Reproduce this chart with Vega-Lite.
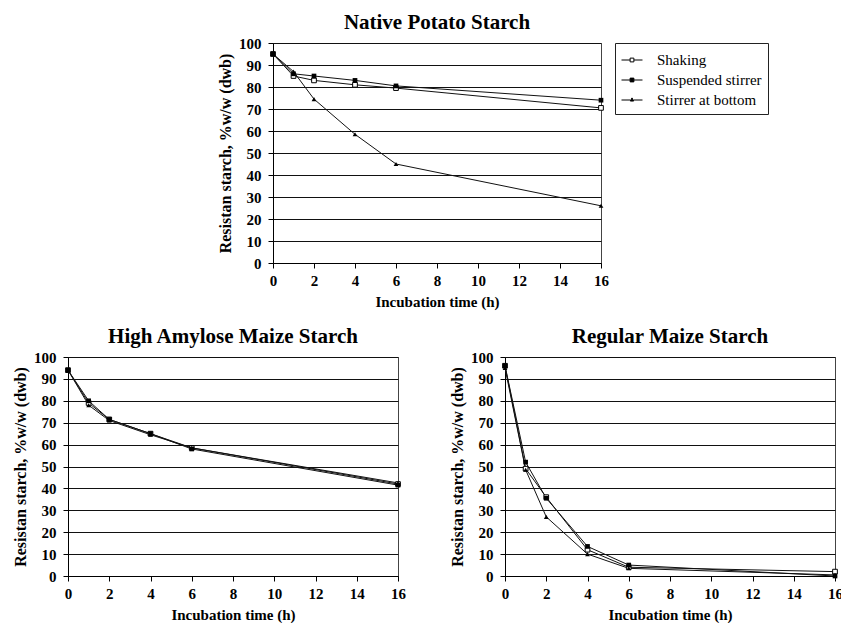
{
  "$schema": "https://vega.github.io/schema/vega-lite/v6.json",
  "padding": {"left": 12, "top": 11, "right": 0, "bottom": 0},
  "background": "white",
  "datasets": {
    "d": [
      {"chart": "potato", "series": "Shaking", "t": 0, "v": 95},
      {"chart": "potato", "series": "Shaking", "t": 1, "v": 85},
      {"chart": "potato", "series": "Shaking", "t": 2, "v": 83},
      {"chart": "potato", "series": "Shaking", "t": 4, "v": 81},
      {"chart": "potato", "series": "Shaking", "t": 6, "v": 79.5},
      {"chart": "potato", "series": "Shaking", "t": 16, "v": 70.5},
      {"chart": "potato", "series": "Suspended stirrer", "t": 0, "v": 95},
      {"chart": "potato", "series": "Suspended stirrer", "t": 1, "v": 86},
      {"chart": "potato", "series": "Suspended stirrer", "t": 2, "v": 85},
      {"chart": "potato", "series": "Suspended stirrer", "t": 4, "v": 83},
      {"chart": "potato", "series": "Suspended stirrer", "t": 6, "v": 80.5},
      {"chart": "potato", "series": "Suspended stirrer", "t": 16, "v": 74},
      {"chart": "potato", "series": "Stirrer at bottom", "t": 0, "v": 95},
      {"chart": "potato", "series": "Stirrer at bottom", "t": 1, "v": 87},
      {"chart": "potato", "series": "Stirrer at bottom", "t": 2, "v": 74.5},
      {"chart": "potato", "series": "Stirrer at bottom", "t": 4, "v": 58.5},
      {"chart": "potato", "series": "Stirrer at bottom", "t": 6, "v": 45},
      {"chart": "potato", "series": "Stirrer at bottom", "t": 16, "v": 26},
      {"chart": "amylose", "series": "Shaking", "t": 0, "v": 94},
      {"chart": "amylose", "series": "Shaking", "t": 1, "v": 79},
      {"chart": "amylose", "series": "Shaking", "t": 2, "v": 71.5},
      {"chart": "amylose", "series": "Shaking", "t": 4, "v": 65},
      {"chart": "amylose", "series": "Shaking", "t": 6, "v": 58.5},
      {"chart": "amylose", "series": "Shaking", "t": 16, "v": 42},
      {"chart": "amylose", "series": "Suspended stirrer", "t": 0, "v": 94},
      {"chart": "amylose", "series": "Suspended stirrer", "t": 1, "v": 80},
      {"chart": "amylose", "series": "Suspended stirrer", "t": 2, "v": 71.5},
      {"chart": "amylose", "series": "Suspended stirrer", "t": 4, "v": 65},
      {"chart": "amylose", "series": "Suspended stirrer", "t": 6, "v": 58},
      {"chart": "amylose", "series": "Suspended stirrer", "t": 16, "v": 41.5},
      {"chart": "amylose", "series": "Stirrer at bottom", "t": 0, "v": 94},
      {"chart": "amylose", "series": "Stirrer at bottom", "t": 1, "v": 78},
      {"chart": "amylose", "series": "Stirrer at bottom", "t": 2, "v": 71},
      {"chart": "amylose", "series": "Stirrer at bottom", "t": 4, "v": 64.5},
      {"chart": "amylose", "series": "Stirrer at bottom", "t": 6, "v": 58.5},
      {"chart": "amylose", "series": "Stirrer at bottom", "t": 16, "v": 42.5},
      {"chart": "regular", "series": "Shaking", "t": 0, "v": 96},
      {"chart": "regular", "series": "Shaking", "t": 1, "v": 49},
      {"chart": "regular", "series": "Shaking", "t": 2, "v": 36},
      {"chart": "regular", "series": "Shaking", "t": 4, "v": 12},
      {"chart": "regular", "series": "Shaking", "t": 6, "v": 4},
      {"chart": "regular", "series": "Shaking", "t": 16, "v": 2},
      {"chart": "regular", "series": "Suspended stirrer", "t": 0, "v": 96},
      {"chart": "regular", "series": "Suspended stirrer", "t": 1, "v": 52},
      {"chart": "regular", "series": "Suspended stirrer", "t": 2, "v": 35.5},
      {"chart": "regular", "series": "Suspended stirrer", "t": 4, "v": 13.5},
      {"chart": "regular", "series": "Suspended stirrer", "t": 6, "v": 5},
      {"chart": "regular", "series": "Suspended stirrer", "t": 16, "v": 0},
      {"chart": "regular", "series": "Stirrer at bottom", "t": 0, "v": 95},
      {"chart": "regular", "series": "Stirrer at bottom", "t": 1, "v": 48.5},
      {"chart": "regular", "series": "Stirrer at bottom", "t": 2, "v": 27},
      {"chart": "regular", "series": "Stirrer at bottom", "t": 4, "v": 10},
      {"chart": "regular", "series": "Stirrer at bottom", "t": 6, "v": 3.5},
      {"chart": "regular", "series": "Stirrer at bottom", "t": 16, "v": 0.5}
    ]
  },
  "data": {"name": "d"},
  "resolve": {"scale": {"shape": "independent", "fill": "independent", "stroke": "independent"}, "legend": {"shape": "independent", "fill": "independent", "stroke": "independent"}},
  "vconcat": [
    {
      "spacing": 20,
      "resolve": {"scale": {"shape": "independent", "fill": "independent", "stroke": "independent"}, "legend": {"shape": "independent", "fill": "independent", "stroke": "independent"}},
      "hconcat": [
        {
          "width": 129,
          "height": 220,
          "view": {"stroke": null},
          "transform": [{"filter": "datum.chart == 'none'"}],
          "mark": {"type": "point", "opacity": 0},
          "encoding": {}
        },
        {
          "title": {"text": "Native Potato Starch"},
          "width": 328,
          "height": 220,
          "transform": [{"filter": "datum.chart == 'potato'"}],
          "encoding": {
            "x": {"field": "t", "type": "quantitative", "scale": {"domain": [0, 16], "nice": false}, "axis": {"values": [0, 2, 4, 6, 8, 10, 12, 14, 16]}, "title": "Incubation time (h)"},
            "y": {"field": "v", "type": "quantitative", "scale": {"domain": [0, 100], "nice": false}, "axis": {"values": [0, 10, 20, 30, 40, 50, 60, 70, 80, 90, 100]}, "title": "Resistan starch, %w/w (dwb)"}
          },
          "layer": [
            {"mark": {"type": "line", "color": "#111", "strokeWidth": 1}, "encoding": {"detail": {"field": "series"}}},
            {"transform": [{"filter": "datum.series == 'Shaking'"}], "mark": {"type": "point", "shape": "square", "size": 22, "filled": false, "fill": "#fff", "stroke": "#000", "strokeWidth": 1, "opacity": 1}, "encoding": {}},
            {"transform": [{"filter": "datum.series == 'Suspended stirrer'"}], "mark": {"type": "point", "shape": "square", "size": 22, "filled": true, "color": "#000", "opacity": 1}, "encoding": {}},
            {"transform": [{"filter": "datum.series == 'Stirrer at bottom'"}], "mark": {"type": "point", "shape": "triangle-up", "size": 22, "filled": true, "color": "#000", "opacity": 1}, "encoding": {}},
            {
              "transform": [{"filter": "datum.t < 0"}],
              "mark": {"type": "point", "size": 440, "strokeWidth": 1, "opacity": 1},
              "encoding": {
                "shape": {"field": "series", "title": null, "scale": {"domain": ["Shaking", "Suspended stirrer", "Stirrer at bottom"], "range": ["M-1,0H-0.18M0.18,0H1M-0.18,-0.18H0.18V0.18H-0.18Z", "M-1,0H-0.18M0.18,0H1M-0.18,-0.18H0.18V0.18H-0.18Z", "M-1,0H-0.16M0.16,0H1M0,-0.2L0.16,0.1H-0.16Z"]}, "legend": {"labelExpr": "datum.label + '\u00a0\u00a0\u00a0'"}},
                "fill": {"field": "series", "title": null, "scale": {"domain": ["Shaking", "Suspended stirrer", "Stirrer at bottom"], "range": ["#fff", "#000", "#000"]}, "legend": {"labelExpr": "datum.label + '\u00a0\u00a0\u00a0'"}},
                "stroke": {"field": "series", "title": null, "scale": {"domain": ["Shaking", "Suspended stirrer", "Stirrer at bottom"], "range": ["#000", "#000", "#000"]}, "legend": {"labelExpr": "datum.label + '\u00a0\u00a0\u00a0'"}}
              }
            }
          ]
        }
      ]
    },
    {
      "spacing": 43,
      "hconcat": [
        {
          "title": {"text": "High Amylose Maize Starch"},
          "width": 330,
          "height": 219,
          "transform": [{"filter": "datum.chart == 'amylose'"}],
          "encoding": {
            "x": {"field": "t", "type": "quantitative", "scale": {"domain": [0, 16], "nice": false}, "axis": {"values": [0, 2, 4, 6, 8, 10, 12, 14, 16]}, "title": "Incubation time (h)"},
            "y": {"field": "v", "type": "quantitative", "scale": {"domain": [0, 100], "nice": false}, "axis": {"values": [0, 10, 20, 30, 40, 50, 60, 70, 80, 90, 100]}, "title": "Resistan starch, %w/w (dwb)"}
          },
          "layer": [
            {"mark": {"type": "line", "color": "#111", "strokeWidth": 1}, "encoding": {"detail": {"field": "series"}}},
            {"transform": [{"filter": "datum.series == 'Shaking'"}], "mark": {"type": "point", "shape": "square", "size": 22, "filled": false, "fill": "#fff", "stroke": "#000", "strokeWidth": 1, "opacity": 1}, "encoding": {}},
            {"transform": [{"filter": "datum.series == 'Suspended stirrer'"}], "mark": {"type": "point", "shape": "square", "size": 22, "filled": true, "color": "#000", "opacity": 1}, "encoding": {}},
            {"transform": [{"filter": "datum.series == 'Stirrer at bottom'"}], "mark": {"type": "point", "shape": "triangle-up", "size": 22, "filled": true, "color": "#000", "opacity": 1}, "encoding": {}}
          ]
        },
        {
          "title": {"text": "Regular Maize Starch"},
          "width": 330,
          "height": 219,
          "transform": [{"filter": "datum.chart == 'regular'"}],
          "encoding": {
            "x": {"field": "t", "type": "quantitative", "scale": {"domain": [0, 16], "nice": false}, "axis": {"values": [0, 2, 4, 6, 8, 10, 12, 14, 16]}, "title": "Incubation time (h)"},
            "y": {"field": "v", "type": "quantitative", "scale": {"domain": [0, 100], "nice": false}, "axis": {"values": [0, 10, 20, 30, 40, 50, 60, 70, 80, 90, 100]}, "title": "Resistan starch, %w/w (dwb)"}
          },
          "layer": [
            {"mark": {"type": "line", "color": "#111", "strokeWidth": 1}, "encoding": {"detail": {"field": "series"}}},
            {"transform": [{"filter": "datum.series == 'Shaking'"}], "mark": {"type": "point", "shape": "square", "size": 22, "filled": false, "fill": "#fff", "stroke": "#000", "strokeWidth": 1, "opacity": 1}, "encoding": {}},
            {"transform": [{"filter": "datum.series == 'Suspended stirrer'"}], "mark": {"type": "point", "shape": "square", "size": 22, "filled": true, "color": "#000", "opacity": 1}, "encoding": {}},
            {"transform": [{"filter": "datum.series == 'Stirrer at bottom'"}], "mark": {"type": "point", "shape": "triangle-up", "size": 22, "filled": true, "color": "#000", "opacity": 1}, "encoding": {}}
          ]
        }
      ]
    }
  ],
  "spacing": 15,
  "config": {
    "font": "Liberation Serif",
    "view": {"stroke": "#444", "strokeWidth": 1},
    "axis": {
      "labelFont": "Liberation Serif", "labelFontWeight": "bold", "labelFontSize": 15, "labelColor": "#000", "labelOverlap": false,
      "titleFont": "Liberation Serif", "titleFontWeight": "bold", "titleFontSize": 15, "titleColor": "#000",
      "tickColor": "#000", "tickSize": 5, "domainColor": "#000",
      "gridColor": "#111", "gridOpacity": 1, "gridWidth": 1
    },
    "axisX": {"grid": false, "labelPadding": 5, "titlePadding": 6, "labelFlush": false},
    "axisY": {"grid": true, "labelPadding": 7, "titlePadding": 5, "domain": true, "titleFontSize": 16},
    "title": {"font": "Liberation Serif", "fontSize": 21, "fontWeight": "bold", "color": "#000", "anchor": "middle", "offset": 3},
    "legend": {
      "orient": "right", "offset": 12, "strokeColor": "#222", "padding": 6, "cornerRadius": 0,
      "symbolSize": 440, "symbolStrokeColor": "#000", "symbolStrokeWidth": 1, "symbolOpacity": 1,
      "labelFont": "Liberation Serif", "labelFontSize": 15, "labelColor": "#000", "labelOffset": 14,
      "rowPadding": 1
    }
  }
}
